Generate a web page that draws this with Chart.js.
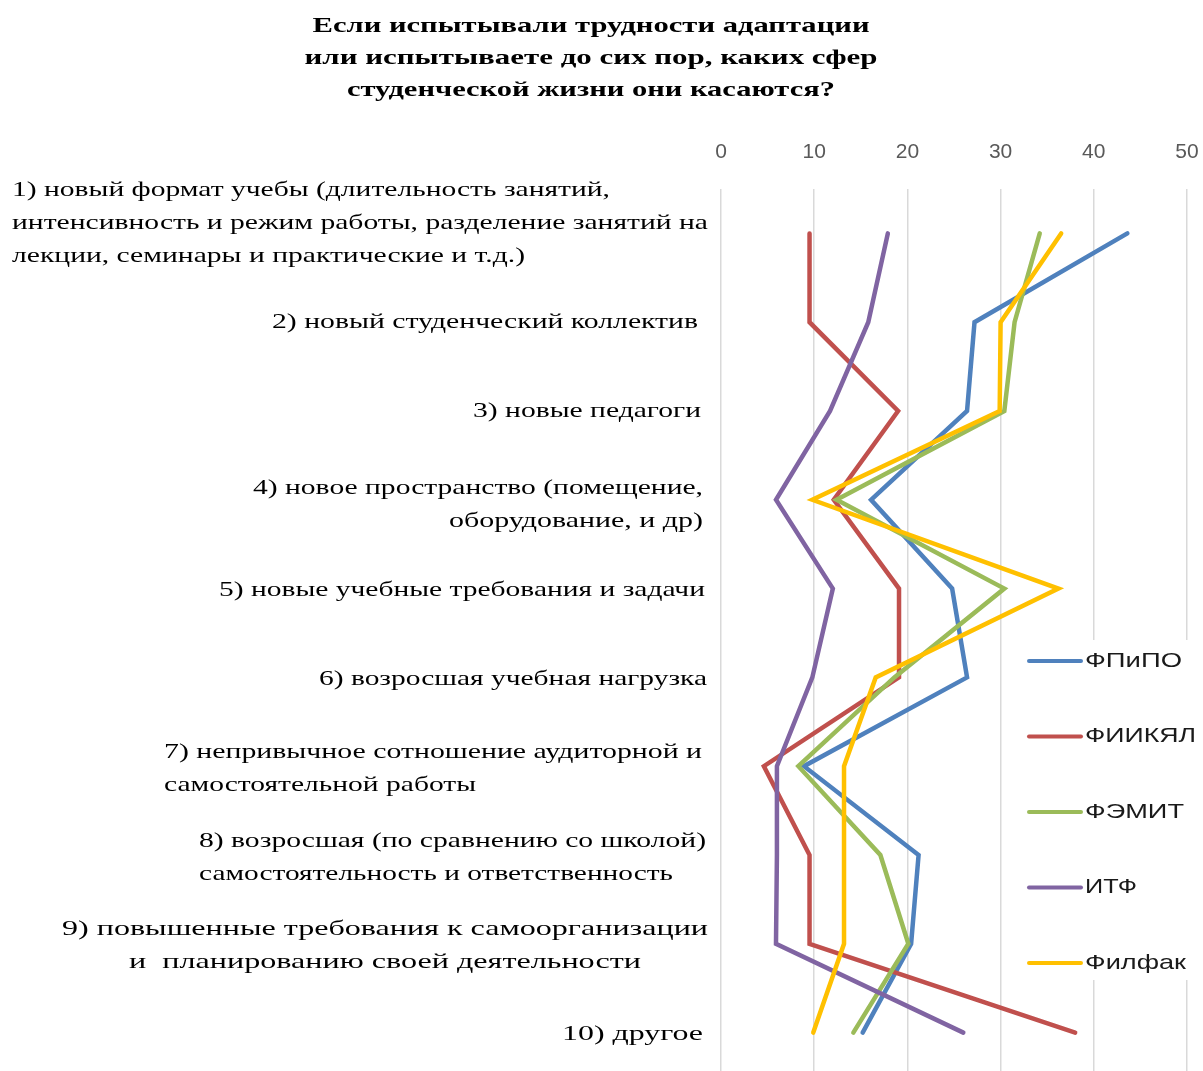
<!DOCTYPE html>
<html>
<head>
<meta charset="utf-8">
<script src="https://cdn.jsdelivr.net/npm/chart.js@4.4.1/dist/chart.umd.min.js"></script>
<style>
    html, body { margin: 0; padding: 0; background: #fff; overflow: hidden; }
    #wrap { width: 1203px; height: 1077px; }
</style>
</head>
<body>
<div id="wrap"><canvas id="adaptationChart" width="1203" height="1077"></canvas></div>
<script>
const titleLines = [
    'Если испытывали трудности адаптации',
    'или испытываете до сих пор, каких сфер',
    'студенческой жизни они касаются?'
];

const categories = [
    ['1) новый формат учебы (длительность занятий,', 'интенсивность и режим работы, разделение занятий на', 'лекции, семинары и практические и т.д.)'],
    ['2) новый студенческий коллектив'],
    ['3) новые педагоги'],
    ['4) новое пространство (помещение,', 'оборудование, и др)'],
    ['5) новые учебные требования и задачи'],
    ['6) возросшая учебная нагрузка'],
    ['7) непривычное сотношение аудиторной и', 'самостоятельной работы'],
    ['8) возросшая (по сравнению со школой)', 'самостоятельность и ответственность'],
    ['9) повышенные требования к самоорганизации', 'и  планированию своей деятельности'],
    ['10) другое']
];

const faculties = ['ФПиПО', 'ФИИКЯЛ', 'ФЭМИТ', 'ИТФ', 'Филфак'];

const fpipo   = [43.6, 27.2, 26.4, 16.1, 24.8, 26.4, 8.9, 21.2, 20.4, 15.2];
const fiikyal = [9.5, 9.5, 19.0, 12.1, 19.1, 19.1, 4.6, 9.5, 9.5, 38.0];
const femit   = [34.2, 31.5, 30.4, 12.4, 30.4, 18.6, 8.3, 17.1, 20.1, 14.2];
const itf     = [17.9, 15.8, 11.7, 5.9, 12.0, 9.8, 6.0, 6.0, 5.9, 26.0];
const filfak  = [36.5, 30.0, 29.9, 9.8, 36.2, 16.6, 13.2, 13.2, 13.2, 9.9];

const xTicks = [0, 10, 20, 30, 40, 50];

const seriesValues = [fpipo, fiikyal, femit, itf, filfak];
const seriesColors = ['#4F81BD', '#C0504D', '#9BBB59', '#8064A2', '#FFC000'];

// layout of the hand-drawn text (the picture is stretched sideways, so each line gets a width)
const titleWidths = [557, 573, 488];
const labelLayout = [
    { align: 'left',   x: 12,  dy: -10, widths: [598, 696, 513] },
    { align: 'right',  x: 698, dy: 0,   widths: [426] },
    { align: 'right',  x: 701, dy: 0,   widths: [228] },
    { align: 'right',  x: 703, dy: 5,   widths: [450, 254] },
    { align: 'right',  x: 705, dy: 2,   widths: [486] },
    { align: 'right',  x: 707, dy: 2,   widths: [388] },
    { align: 'left',   x: 164, dy: 3,   widths: [538, 312] },
    { align: 'left',   x: 199, dy: 3,   widths: [507, 474] },
    { align: 'center', x: 385, dy: 2,   widths: [646, 512] },
    { align: 'right',  x: 703, dy: 2,   widths: [141] }
];
const legendWidths = [97, 111, 99, 52, 101];

function fitText(ctx, text, x, y, align, width) {
    const w = ctx.measureText(text).width;
    ctx.save();
    ctx.translate(x, y);
    ctx.scale(width / w, 1);
    ctx.textAlign = align;
    ctx.fillText(text, 0, 0);
    ctx.restore();
}

const textPlugin = {
    id: 'textPlugin',
    afterDatasetsDraw(chart) {
        const ctx = chart.ctx;
        const yScale = chart.scales.y;
        ctx.save();
        ctx.fillStyle = '#000';
        ctx.textBaseline = 'middle';

        // title
        ctx.font = 'bold 21px "Liberation Serif"';
        titleLines.forEach((line, i) => {
            fitText(ctx, line, 591, 27 + i * 32, 'center', titleWidths[i]);
        });

        // category labels
        ctx.font = '21px "Liberation Serif"';
        categories.forEach((lines, i) => {
            const lay = labelLayout[i];
            const mid = yScale.getPixelForValue(i) + lay.dy;
            const top = mid - (lines.length - 1) * 33 / 2;
            lines.forEach((line, j) => {
                fitText(ctx, line, lay.x, top + j * 33, lay.align, lay.widths[j]);
            });
        });

        // legend over the plot
        ctx.fillStyle = '#fff';
        ctx.fillRect(1020, 640, 183, 340);
        ctx.font = '21px "Liberation Sans"';
        chart.data.datasets.forEach((ds, i) => {
            const y = 661 + i * 75.5;
            ctx.strokeStyle = ds.borderColor;
            ctx.lineWidth = 4;
            ctx.lineCap = 'round';
            ctx.beginPath();
            ctx.moveTo(1029, y);
            ctx.lineTo(1081, y);
            ctx.stroke();
            ctx.fillStyle = '#1a1a1a';
            fitText(ctx, ds.label, 1085, y, 'left', legendWidths[i]);
        });
        ctx.restore();
    }
};

const ctx = document.getElementById('adaptationChart').getContext('2d');
new Chart(ctx, {
    type: 'line',
    data: {
        labels: categories.map(c => c.join(' ')),
        datasets: faculties.map((name, i) => ({
            label: name,
            data: seriesValues[i],
            borderColor: seriesColors[i],
            backgroundColor: seriesColors[i],
            borderWidth: 4.5,
            borderCapStyle: 'round',
            borderJoinStyle: 'miter',
            pointRadius: 0,
            tension: 0,
            order: faculties.length - 1 - i
        }))
    },
    options: {
        indexAxis: 'y',
        responsive: false,
        animation: false,
        devicePixelRatio: 1,
        layout: {
            padding: { top: 107, left: 721, right: 16, bottom: 0 }
        },
        plugins: {
            legend: { display: false },
            title: { display: false },
            tooltip: { enabled: false }
        },
        scales: {
            x: {
                type: 'linear',
                position: 'top',
                min: xTicks[0],
                max: xTicks[xTicks.length - 1],
                afterBuildTicks: (axis) => {
                    axis.ticks = xTicks.map(v => ({ value: v }));
                },
                afterFit: (axis) => {
                    axis.height = 82;
                    axis.paddingLeft = 0;
                    axis.paddingRight = 0;
                },
                ticks: {
                    padding: 24,
                    color: '#595959',
                    font: { family: 'Liberation Sans', size: 21 }
                },
                grid: {
                    color: '#D9D9D9',
                    lineWidth: 1.5,
                    drawTicks: false
                },
                border: { display: false }
            },
            y: {
                type: 'category',
                offset: true,
                afterFit: (axis) => { axis.width = 0; },
                ticks: { display: false },
                grid: { display: false },
                border: { display: false }
            }
        }
    },
    plugins: [textPlugin]
});
</script>
</body>
</html>
